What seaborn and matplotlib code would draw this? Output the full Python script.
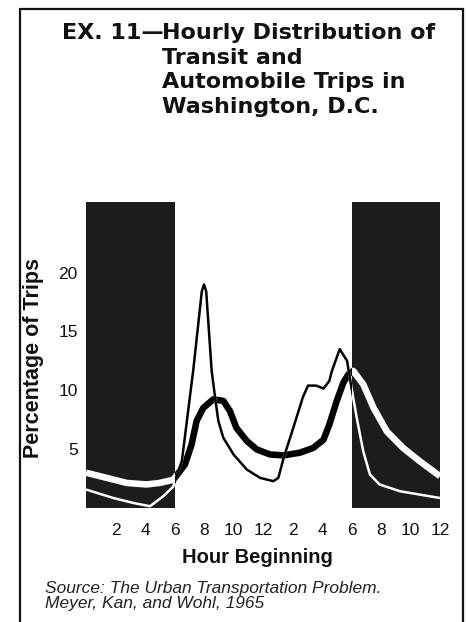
import matplotlib
matplotlib.use("Agg")
import matplotlib.pyplot as plt
from matplotlib.patches import Rectangle
import pandas as pd
import seaborn as sns

# hourly share of trips (%)
transit_hours = [0, 1.85, 3.2, 4.34, 5.24, 5.9, 6.5, 7.28, 7.85, 8.0, 8.15, 8.52, 8.75, 8.97,
                 9.31, 10.0, 10.9, 11.8, 12.7, 13.04, 13.4, 14.05, 14.7, 15.05, 15.6, 16.1,
                 16.5, 16.66, 17.2, 17.7, 18.0, 18.35, 18.8, 19.25, 19.9, 21.3, 24]
transit_pct = [1.57, 0.85, 0.43, 0.15, 1.0, 1.8, 4.0, 11.8, 18.4, 19.0, 18.4, 11.65, 9.4, 7.4,
               5.97, 4.55, 3.27, 2.56, 2.28, 2.56, 4.26, 6.8, 9.4, 10.4, 10.4, 10.15,
               10.8, 11.6, 13.5, 12.5, 10.2, 7.7, 4.8, 2.85, 2.0, 1.42, 0.85]

auto_hours = [0, 1.4, 2.76, 4.1, 5.0, 5.92, 6.71, 7.16, 7.5, 7.95, 8.63, 9.31, 9.76, 10.2,
              10.9, 11.57, 12.47, 13.4, 14.5, 15.4, 16.1, 16.5, 17.0, 17.45, 17.8, 18.12,
              18.8, 19.5, 20.4, 21.5, 22.6, 24]
auto_pct = [3.0, 2.56, 2.13, 2.0, 2.13, 2.4, 3.7, 5.4, 7.4, 8.5, 9.24, 9.1, 8.24, 6.8,
            5.7, 4.98, 4.55, 4.47, 4.7, 5.1, 5.8, 7.1, 9.1, 10.66, 11.37, 11.65,
            10.5, 8.5, 6.5, 5.1, 4.0, 2.7]

tick_hours = [2, 4, 6, 8, 10, 12, 14, 16, 18, 20, 22, 24]
tick_labels = ["2", "4", "6", "8", "10", "12", "2", "4", "6", "8", "10", "12"]
y_ticks = [5, 10, 15, 20]

DARK = "#1c1c1c"

sns.set_style("white")
plt.rcParams["font.family"] = ["Liberation Sans", "DejaVu Sans"]

W, H = 466, 622
fig = plt.figure(figsize=(W / 100, H / 100), dpi=100)
ax = fig.add_axes([86 / W, 1 - 508 / H, 354 / W, 306 / H])

# night hours shaded black
ax.axvspan(0, 6, color=DARK, lw=0)
ax.axvspan(18, 24, color=DARK, lw=0)

df_t = pd.DataFrame({"hour": transit_hours, "pct": transit_pct})
df_a = pd.DataFrame({"hour": auto_hours, "pct": auto_pct})

# each line: white everywhere, then black copy clipped to the daytime band
for df, lw in [(df_a, 4.7), (df_t, 1.8)]:
    for c in ["white", "black"]:
        sns.lineplot(data=df, x="hour", y="pct", color=c, lw=lw, estimator=None, ax=ax,
                     solid_joinstyle="round", solid_capstyle="butt")
    day = Rectangle((6, -5), 12, 40, transform=ax.transData)
    ax.lines[-1].set_clip_path(day)

ax.set_xlim(0, 24)
ax.set_ylim(0, 26)
ax.set_xticks(tick_hours)
ax.set_xticklabels(tick_labels)
ax.set_yticks(y_ticks)
ax.tick_params(axis="both", length=0, labelsize=12.5, colors="#111111")
ax.tick_params(axis="x", pad=11)
ax.tick_params(axis="y", pad=6)
for s in ax.spines.values():
    s.set_visible(False)

ax.set_xlabel("")
ax.set_ylabel("Percentage of Trips", fontsize=15.5, fontweight="bold", color="#111111")
ax.yaxis.set_label_coords(-0.118, 0.489)

# title block
tkw = dict(fontsize=16, fontweight="bold", color="#111111", va="baseline",
           family=["DejaVu Sans"])
fig.text(164 / W, 1 - 39 / H, "EX. 11—", ha="right", **tkw)
title_lines = ["Hourly Distribution of", "Transit and", "Automobile Trips in", "Washington, D.C."]
for i, line in enumerate(title_lines):
    fig.text(162 / W, 1 - (39 + 24.7 * i) / H, line, ha="left", **tkw)

fig.text(257.5 / W, 1 - 563 / H, "Hour Beginning", ha="center", va="baseline",
         fontsize=14.5, fontweight="bold", color="#111111")

fig.text(45 / W, 1 - 593 / H, "Source: The Urban Transportation Problem.",
         ha="left", va="baseline", fontsize=12.5, style="italic", color="#222222")
fig.text(45 / W, 1 - 608 / H, "Meyer, Kan, and Wohl, 1965",
         ha="left", va="baseline", fontsize=12.5, style="italic", color="#222222")

# outer frame, running off the bottom of the page
frame = Rectangle((20 / W, -0.05), 443 / W, 1.05 - 9 / H, transform=fig.transFigure,
                  fill=False, lw=1.6, edgecolor="#111111", clip_on=False)
fig.patches.append(frame)

fig.savefig("out.png", dpi=100)
